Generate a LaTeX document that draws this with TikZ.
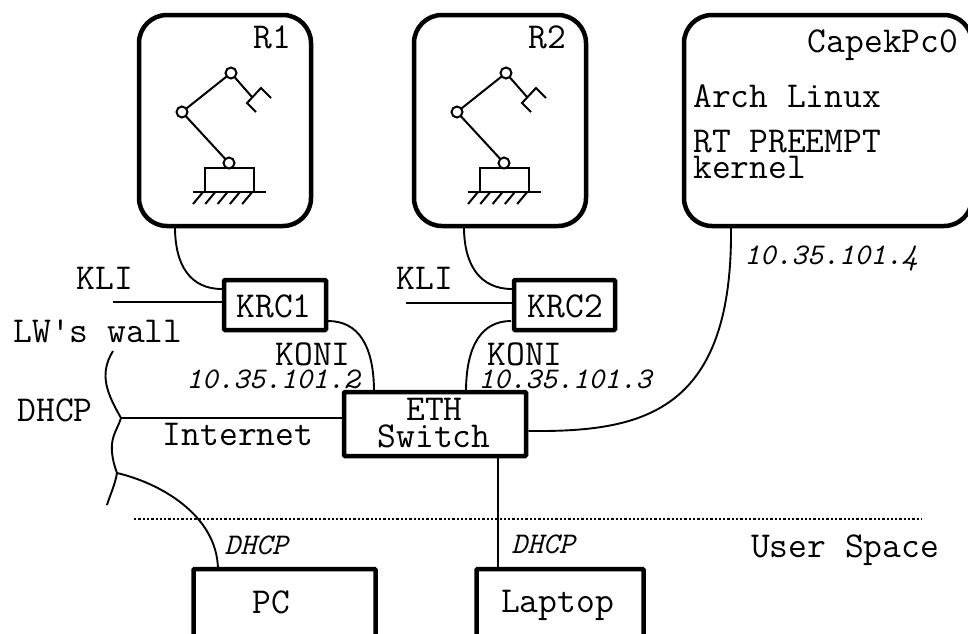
\documentclass[tikz,border=0pt]{standalone}
\usepackage{fontspec}
\tikzset{
  big/.style={font=\fontsize{36.5}{36}\selectfont\ttfamily,inner sep=0pt,anchor=base},
  ip/.style={font=\fontsize{30}{32}\selectfont\ttfamily\itshape,inner sep=0pt},
  boxa/.style={draw,line width=4.5pt,rounded corners=1pt,inner sep=0pt},
  robotbox/.style={draw,line width=4.5pt,rounded corners=28pt,inner sep=0pt},
  wire/.style={line width=1.9pt},
  armline/.style={line width=2pt},
  joint/.style={circle,draw,line width=2pt,fill=white,minimum size=11pt,inner sep=0pt}
}
\newcommand{\robotarm}[3]{%
\begin{scope}[shift={(#1,#2)}]
  \draw[armline] (0,0) rectangle (49,-24);
  \draw[armline] (-12,0) -- (61,0);
  \foreach \i in {0,1,2,3,4}{\draw[armline] (\i*12.3-2,0) -- ++(-10,12);}
  \draw[armline] (24,-29) -- (-23,-80) -- (26,-119) -- (47,-95);
  \draw[armline] (66,-94) -- (56,-104) -- (42,-89) -- (51,-80);
  \node[joint] (ja#3) at (24,-29) {};
  \node[joint] (jb#3) at (-23,-80) {};
  \node[joint] (jc#3) at (26,-119) {};
\end{scope}}
\begin{document}
\begin{tikzpicture}[x=1pt,y=-1pt]
\useasboundingbox (0,0) rectangle (968,633);
\fill[white] (0,0) rectangle (968,633);
\node[robotbox,minimum width=172pt,minimum height=211pt] (r1) at (225,120.5) {};
\node[robotbox,minimum width=172pt,minimum height=211pt] (r2) at (500,120.5) {};
\begin{scope}
\clip (0,0) rectangle (968,633);
\node[robotbox,minimum width=288pt,minimum height=211pt] (capek) at (828,120.5) {};
\node[boxa,minimum width=182pt,minimum height=70pt] (pc) at (284.5,604) {};
\node[boxa,minimum width=167pt,minimum height=70pt] (lap) at (560,604) {};
\end{scope}
\node[big] (r1t) at (272,48) {R1};
\node[big] (r2t) at (547,48) {R2};
\node[big] (cpt) at (883,52) {CapekPc0};
\node[big,anchor=base west] (arch) at (693,107) {Arch Linux};
\node[big,anchor=base west] (rt) at (693,152) {RT PREEMPT};
\node[big,anchor=base west] (kern) at (693,178) {kernel};
\robotarm{205}{192}{a}
\robotarm{480}{192}{b}
\node[boxa,minimum width=102pt,minimum height=50pt] (krc1) at (275,305) {};
\node[boxa,minimum width=101pt,minimum height=50pt] (krc2) at (564.5,305) {};
\node[boxa,minimum width=182pt,minimum height=64pt] (eth) at (435,424) {};
\node[big] (krc1t) at (274,317) {KRC1};
\node[big] (krc2t) at (565.5,317) {KRC2};
\node[big] (etht) at (434.5,420) {ETH};
\node[big] (swt) at (434,447) {Switch};
\node[big] (pct) at (271,613) {PC};
\node[big] (lapt) at (557.5,612) {Laptop};
\node[big] (kli1) at (105,289) {KLI};
\node[big] (kli2) at (425,289) {KLI};
\node[big] (lw) at (98,342) {LW's wall};
\node[big] (koni1) at (313,365) {KONI};
\node[big] (koni2) at (525,365) {KONI};
\node[ip] (ip2) at (273,379) {10.35.101.2};
\node[ip] (ip3) at (565,379) {10.35.101.3};
\node[ip] (ip4) at (831,258) {10.35.101.4};
\node[big] (dhcp) at (55,421) {DHCP};
\node[big] (inet) at (238,445) {Internet};
\node[ip] (d1) at (256,545) {DHCP};
\node[ip] (d2) at (543,544) {DHCP};
\node[big] (us) at (845,557) {User Space};
\coordinate (k1w) at (113,302);
\coordinate (k2w) at (406,303);
\coordinate (wt) at (113,351);
\coordinate (wa) at (121,418);
\coordinate (wb) at (117,473);
\coordinate (we) at (107,505);
\coordinate (ds) at (134,519);
\coordinate (de) at (922,519);
\draw[wire] (k1w) -- (krc1.west |- k1w);
\draw[wire] (k2w) -- (krc2.west |- k2w);
\draw[wire] (175,227) .. controls (175,265) and (190,289) .. (222,289);
\draw[wire] (464,227) .. controls (464,265) and (480,289) .. (512,289);
\draw[wire] (328,321) .. controls (358,321) and (374,345) .. (374,392);
\draw[wire] (511,321) .. controls (482,321) and (466,345) .. (466,392);
\draw[wire] (eth.east |- 0,431) .. controls (640,432) and (733,415) .. (731,227);
\draw[wire] (wa) -- (eth.west |- wa);
\draw[wire] (wb) .. controls (160,483) and (217,515) .. (218,569);
\draw[wire] (498,458) -- (498,569);
\draw[wire] (wt) .. controls (98,375) and (108,395) .. (wa)
  .. controls (117,432) and (105,440) .. (wb) .. controls (115,485) and (110,495) .. (we);
\draw[line width=2.3pt,dotted] (ds) -- (de);
\end{tikzpicture}
\end{document}
